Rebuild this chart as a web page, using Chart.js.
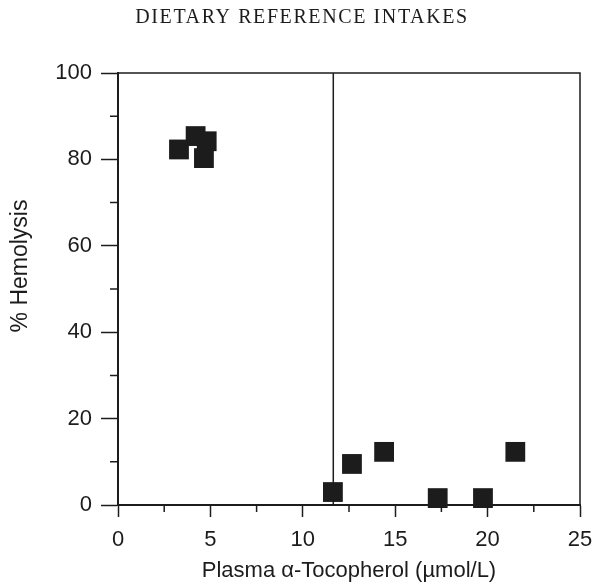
<!DOCTYPE html>
<html>
<head>
<meta charset="utf-8">
<script src="https://cdn.jsdelivr.net/npm/chart.js@4/dist/chart.umd.min.js"></script>
<style>
html, body { margin: 0; padding: 0; background: #fff; }
#wrap { width: 599px; height: 587px; }
</style>
</head>
<body>
<div id="wrap"><canvas id="chart"></canvas></div>
<script>
// Data
const tocopherol = [3.3, 4.2, 4.8, 4.65, 11.63, 12.66, 14.4, 17.3, 19.75, 21.5];
const hemolysis = [82.3, 85.4, 84.2, 80.3, 3.0, 9.5, 12.3, 1.6, 1.6, 12.3];
const cutoffX = [11.65, 11.65];
const cutoffY = [0, 100];
const xTicks = [0, 5, 10, 15, 20, 25];
const yTicks = [0, 20, 40, 60, 80, 100];
const xMinor = [2.5, 7.5, 12.5, 17.5, 22.5];
const yMinor = [10, 30, 50, 70, 90];

const ink = '#1c1c1c';
const sans = "'Liberation Sans', Arial, sans-serif";
const serif = "'Liberation Serif', 'Times New Roman', serif";

// Running head, top/right frame, minor ticks and the rotated y title
const framePlugin = {
    id: 'frame',
    afterDraw(chart) {
        const ctx = chart.ctx;
        const a = chart.chartArea;
        const xs = chart.scales.x;
        const ys = chart.scales.y;
        ctx.save();
        ctx.strokeStyle = ink;
        ctx.lineWidth = 1.5;
        ctx.beginPath();
        ctx.moveTo(a.left, a.top);
        ctx.lineTo(a.right, a.top);
        ctx.lineTo(a.right, a.bottom);
        ctx.stroke();

        ctx.beginPath();
        xMinor.forEach(v => {
            const px = xs.getPixelForValue(v);
            ctx.moveTo(px, a.bottom);
            ctx.lineTo(px, a.bottom + 7);
        });
        yMinor.forEach(v => {
            const py = ys.getPixelForValue(v);
            ctx.moveTo(a.left, py);
            ctx.lineTo(a.left - 8, py);
        });
        ctx.stroke();

        ctx.fillStyle = ink;
        ctx.font = '20px ' + serif;
        ctx.textAlign = 'center';
        ctx.textBaseline = 'alphabetic';
        ctx.letterSpacing = '1.6px';
        ctx.fillText('DIETARY REFERENCE INTAKES', 302, 23);
        ctx.letterSpacing = '0px';

        ctx.font = '23px ' + sans;
        ctx.textBaseline = 'middle';
        ctx.translate(21, 266);
        ctx.rotate(-Math.PI / 2);
        ctx.fillText('% Hemolysis', 0, 0);
        ctx.restore();
    }
};

const ctx = document.getElementById('chart').getContext('2d');

const chart = new Chart(ctx, {
    type: 'scatter',
    data: {
        datasets: [
            {
                label: 'Hemolysis',
                data: tocopherol.map((x, i) => ({ x: x, y: hemolysis[i] })),
                pointStyle: 'rect',
                pointRadius: 14,
                pointHoverRadius: 14,
                backgroundColor: ink,
                borderColor: ink,
                borderWidth: 0,
                clip: false
            },
            {
                label: 'Cutoff',
                data: cutoffX.map((x, i) => ({ x: x, y: cutoffY[i] })),
                showLine: true,
                pointRadius: 0,
                borderColor: ink,
                borderWidth: 1.5
            }
        ]
    },
    options: {
        responsive: true,
        maintainAspectRatio: false,
        animation: false,
        layout: { padding: { left: 0, right: 19, top: 73, bottom: 0 } },
        plugins: {
            legend: { display: false },
            tooltip: { enabled: false }
        },
        scales: {
            x: {
                type: 'linear',
                min: 0,
                max: 25,
                afterBuildTicks: axis => { axis.ticks = xTicks.map(v => ({ value: v })); },
                afterFit: axis => {
                    axis.height = 82;
                    axis.paddingLeft = 0;
                    axis.paddingRight = 0;
                },
                grid: { drawOnChartArea: false, tickLength: 12, tickWidth: 1.5, tickColor: ink },
                border: { display: true, color: ink, width: 2 },
                ticks: { color: ink, font: { family: sans, size: 22 }, padding: 10, maxRotation: 0 },
                title: {
                    display: true,
                    text: 'Plasma α-Tocopherol (µmol/L)',
                    color: ink,
                    font: { family: sans, size: 22 },
                    padding: { top: 4, bottom: 3 }
                }
            },
            y: {
                type: 'linear',
                min: 0,
                max: 100,
                afterBuildTicks: axis => { axis.ticks = yTicks.map(v => ({ value: v })); },
                afterFit: axis => { axis.width = 118; },
                grid: { drawOnChartArea: false, tickLength: 17, tickWidth: 1.5, tickColor: ink },
                border: { display: true, color: ink, width: 2 },
                ticks: { color: ink, font: { family: sans, size: 22 }, padding: 9 }
            }
        }
    },
    plugins: [framePlugin]
});
</script>
</body>
</html>
